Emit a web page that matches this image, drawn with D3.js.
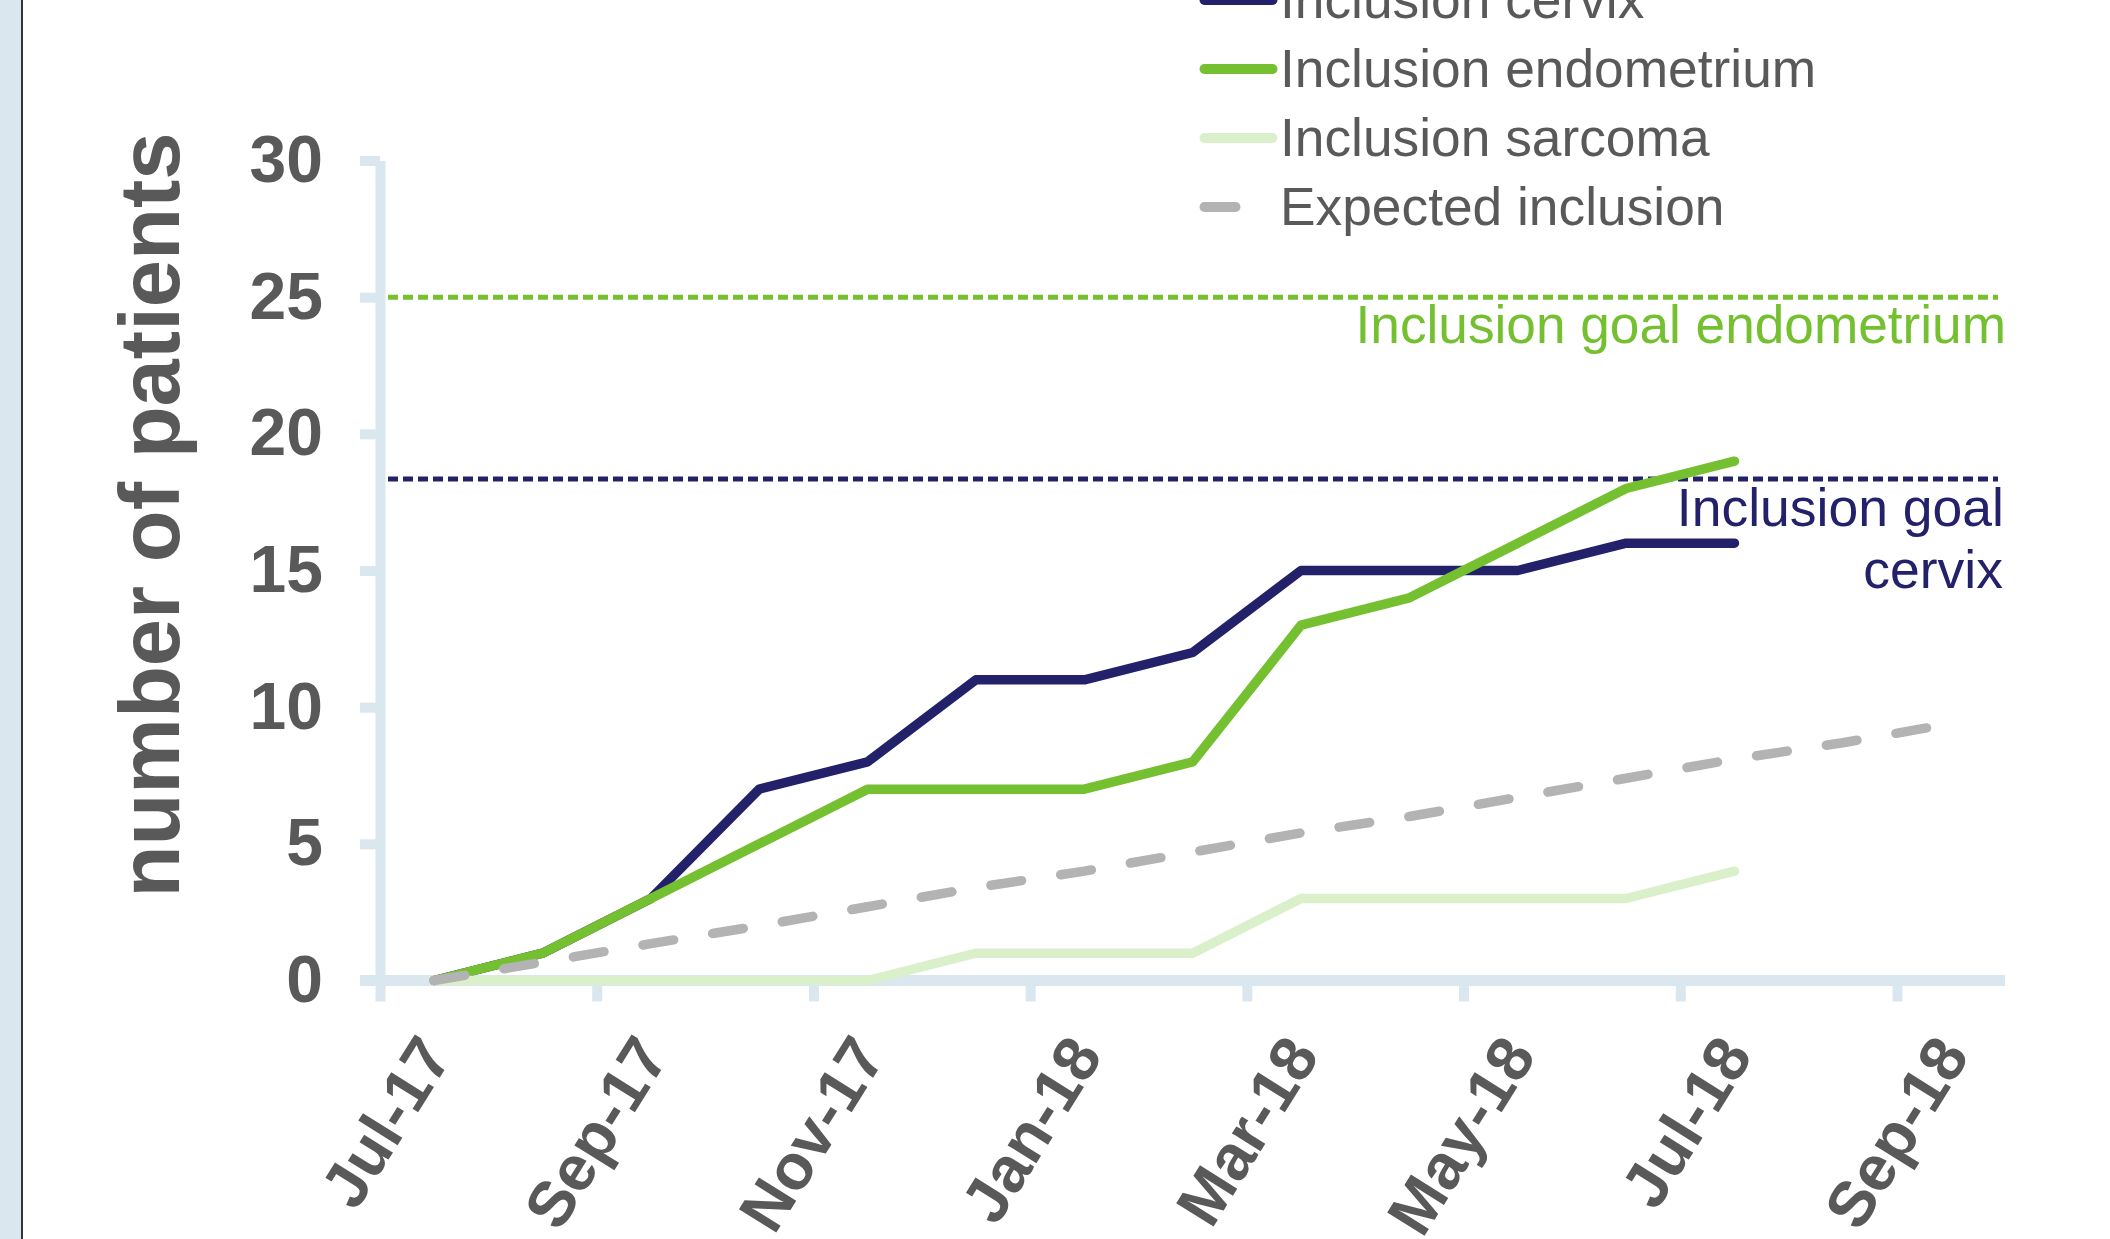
<!DOCTYPE html>
<html>
<head>
<meta charset="utf-8">
<script src="https://cdn.jsdelivr.net/npm/d3@7"></script>
<style>
    body { margin: 0; background: #ffffff; }
    text { font-family: "Liberation Sans", Arial, sans-serif; }
</style>
</head>
<body>
<script>
//chart data, one value per month (points sit in the middle of the month)
var months = ["Jul-17", "Aug-17", "Sep-17", "Oct-17", "Nov-17", "Dec-17", "Jan-18", "Feb-18",
    "Mar-18", "Apr-18", "May-18", "Jun-18", "Jul-18", "Aug-18", "Sep-18"];
var axisLabels = ["Jul-17", "Sep-17", "Nov-17", "Jan-18", "Mar-18", "May-18", "Jul-18", "Sep-18"];
var yTicks = [0, 5, 10, 15, 20, 25, 30];

var cervix = [0, 1, 3, 7, 8, 11, 11, 12, 15, 15, 15, 16, 16];
var endometrium = [0, 1, 3, 5, 7, 7, 7, 8, 13, 14, 16, 18, 19];
var sarcoma = [0, 0, 0, 0, 0, 1, 1, 1, 3, 3, 3, 3, 4];
var expected = [0, 0.67, 1.35, 2.0, 2.7, 3.4, 4.0, 4.7, 5.4, 6.0, 6.7, 7.4, 8.1, 8.7, 9.4];

var goalEndometrium = 25;
var goalCervix = 18.35;

var legendNames = ["Inclusion cervix", "Inclusion endometrium", "Inclusion sarcoma", "Expected inclusion"];

//colours
var navy = "#23216a",
    green = "#74c030",
    lightGreen = "#daf0cb",
    grey = "#b3b3b3",
    axisColor = "#dae7ef",
    textColor = "#595959";

var width = 2110,
    height = 1239;

var svg = d3.select("body").append("svg")
    .attr("width", width)
    .attr("height", height);

svg.append("rect")
    .attr("width", width)
    .attr("height", height)
    .attr("fill", "#ffffff");

//left edge strip
svg.append("rect")
    .attr("x", 0).attr("y", 0)
    .attr("width", 21).attr("height", height)
    .attr("fill", axisColor);
svg.append("line")
    .attr("x1", 22).attr("x2", 22)
    .attr("y1", 0).attr("y2", height)
    .attr("stroke", "#333333")
    .attr("stroke-width", 2);

//scales: x is months since Jul-17
var xScale = d3.scaleLinear()
    .domain([0, 14])
    .range([380, 1897]);

var yScale = d3.scaleLinear()
    .domain([0, 30])
    .range([980.5, 160.5]);

//x axis band
svg.append("line")
    .attr("x1", 360).attr("x2", 2005)
    .attr("y1", yScale(0)).attr("y2", yScale(0))
    .attr("stroke", axisColor)
    .attr("stroke-width", 11);

//x ticks
var xAxis = svg.append("g")
    .attr("transform", "translate(0," + yScale(0) + ")")
    .call(d3.axisBottom(xScale)
        .tickValues(d3.range(0, 15, 2))
        .tickSize(21)
        .tickSizeOuter(0)
        .tickFormat(""));
xAxis.select(".domain").remove();
xAxis.selectAll(".tick line")
    .attr("stroke", axisColor)
    .attr("stroke-width", 10);

//x labels, centred in their month
var xLabels = svg.append("g")
    .attr("transform", "translate(0," + yScale(0) + ")")
    .call(d3.axisBottom(xScale)
        .tickValues(axisLabels.map(function(m) { return months.indexOf(m) + 0.5; }))
        .tickSize(0)
        .tickFormat(function(d) { return months[d - 0.5]; }));
xLabels.select(".domain").remove();
xLabels.selectAll(".tick text")
    .attr("y", null)
    .attr("dy", "0.35em")
    .attr("text-anchor", "end")
    .attr("transform", "translate(0,63) rotate(-58)")
    .attr("fill", textColor)
    .attr("font-size", 64)
    .attr("font-weight", "bold");

//y axis
var yAxis = svg.append("g")
    .attr("transform", "translate(" + xScale(0) + ",0)")
    .call(d3.axisLeft(yScale)
        .tickValues(yTicks)
        .tickSize(20)
        .tickSizeOuter(0)
        .tickPadding(37));
yAxis.select(".domain")
    .attr("stroke", axisColor)
    .attr("stroke-width", 10);
yAxis.selectAll(".tick line")
    .attr("stroke", axisColor)
    .attr("stroke-width", 10);
yAxis.selectAll(".tick text")
    .attr("fill", textColor)
    .attr("font-size", 66)
    .attr("font-weight", "bold");

//y axis title
svg.append("text")
    .attr("transform", "translate(179,515) rotate(-90)")
    .attr("text-anchor", "middle")
    .attr("fill", textColor)
    .attr("font-size", 85)
    .attr("font-weight", "bold")
    .text("number of patients");

//goal lines
function goalLine(value, color) {
    svg.append("line")
        .attr("x1", 388).attr("x2", 1998)
        .attr("y1", yScale(value)).attr("y2", yScale(value))
        .attr("stroke", color)
        .attr("stroke-width", 5)
        .attr("stroke-dasharray", "10,5");
}
goalLine(goalEndometrium, green);
goalLine(goalCervix, navy);

svg.append("text")
    .attr("x", 2006).attr("y", 343)
    .attr("text-anchor", "end")
    .attr("fill", green)
    .attr("font-size", 53.2)
    .text("Inclusion goal endometrium");

svg.append("text")
    .attr("x", 2004).attr("y", 526)
    .attr("text-anchor", "end")
    .attr("fill", navy)
    .attr("font-size", 53.5)
    .text("Inclusion goal");
svg.append("text")
    .attr("x", 2003).attr("y", 588)
    .attr("text-anchor", "end")
    .attr("fill", navy)
    .attr("font-size", 53.5)
    .text("cervix");

//series lines
var line = d3.line()
    .x(function(d, i) { return xScale(i + 0.5); })
    .y(function(d) { return yScale(d); });

function drawSeries(values, color, dash) {
    svg.append("path")
        .datum(values)
        .attr("d", line)
        .attr("fill", "none")
        .attr("stroke", color)
        .attr("stroke-width", 9.5)
        .attr("stroke-linejoin", "round")
        .attr("stroke-linecap", "round")
        .attr("stroke-dasharray", dash);
}
drawSeries(cervix, navy, null);
drawSeries(endometrium, green, null);
drawSeries(sarcoma, lightGreen, null);
drawSeries(expected, grey, "31,39.6");

//legend (top row is cut by the picture edge)
var legendColors = [navy, green, lightGreen, grey];
var legend = svg.selectAll(".legend")
    .data(legendNames)
    .enter().append("g")
    .attr("class", "legend")
    .attr("transform", function(d, i) { return "translate(0," + (i * 69) + ")"; });

legend.append("line")
    .attr("x1", 1204.5).attr("x2", function(d, i) { return i == 3 ? 1235.5 : 1272.5; })
    .attr("y1", 0).attr("y2", 0)
    .attr("stroke", function(d, i) { return legendColors[i]; })
    .attr("stroke-width", 10)
    .attr("stroke-linecap", "round");

legend.append("text")
    .attr("x", 1280).attr("y", 18)
    .attr("fill", textColor)
    .attr("font-size", 53.3)
    .text(function(d) { return d; });
</script>
</body>
</html>
